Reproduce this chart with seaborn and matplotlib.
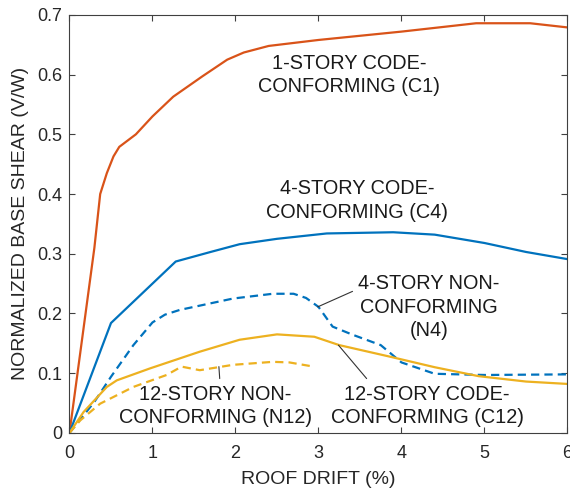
import pandas as pd
import matplotlib
matplotlib.use('Agg')
import matplotlib.pyplot as plt
import seaborn as sns

# pushover curves
c1_drift = [0, 0.3, 0.37, 0.45, 0.53, 0.6, 0.8, 1.0, 1.25, 1.6, 1.9, 2.1, 2.4, 3.0, 4.0, 4.9, 5.55, 6.0]
c1_shear = [0, 0.31, 0.40, 0.435, 0.463, 0.479, 0.50, 0.53, 0.563, 0.597, 0.625, 0.637, 0.648, 0.658, 0.672, 0.686, 0.686, 0.679]

c4_drift = [0, 0.5, 1.28, 1.7, 2.05, 2.5, 3.1, 3.9, 4.4, 5.0, 5.5, 6.0]
c4_shear = [0, 0.184, 0.287, 0.303, 0.316, 0.325, 0.334, 0.336, 0.332, 0.318, 0.303, 0.291]

n4_drift = [0, 0.3, 0.5, 0.77, 1.0, 1.15, 1.33, 1.97, 2.45, 2.7, 2.85, 3.0, 3.17, 3.4, 3.75, 4.0, 4.4, 5.0, 6.0]
n4_shear = [0, 0.052, 0.094, 0.147, 0.185, 0.198, 0.206, 0.225, 0.233, 0.233, 0.226, 0.211, 0.178, 0.165, 0.147, 0.118, 0.099, 0.097, 0.098]

c12_drift = [0, 0.17, 0.45, 0.57, 0.97, 1.57, 2.05, 2.5, 2.95, 3.25, 3.85, 4.4, 4.93, 5.5, 6.0]
c12_shear = [0, 0.035, 0.077, 0.088, 0.108, 0.136, 0.156, 0.165, 0.161, 0.147, 0.128, 0.11, 0.095, 0.086, 0.082]

n12_drift = [0, 0.13, 0.37, 0.77, 1.17, 1.35, 1.57, 1.97, 2.45, 2.65, 2.9]
n12_shear = [0, 0.021, 0.049, 0.077, 0.097, 0.111, 0.105, 0.114, 0.119, 0.118, 0.112]

sns.set_theme(style='ticks')
plt.rcParams['font.family'] = ['Liberation Sans', 'DejaVu Sans']

AX_GRAY = '#404040'
ORANGE = '#D95319'
BLUE = '#0072BD'
YELLOW = '#EDB120'
DASH = (0, (3.7, 2.3))

fig = plt.figure(figsize=(5.7, 4.88), dpi=100)
ax = fig.add_axes([0.1219, 0.1129, 0.8737, 0.8566])

curves = [
    (c1_drift, c1_shear, ORANGE, '-'),
    (c4_drift, c4_shear, BLUE, '-'),
    (n4_drift, n4_shear, BLUE, DASH),
    (c12_drift, c12_shear, YELLOW, '-'),
    (n12_drift, n12_shear, YELLOW, DASH),
]
for xs, ys, col, ls in curves:
    df = pd.DataFrame({'drift': xs, 'shear': ys})
    sns.lineplot(data=df, x='drift', y='shear', ax=ax, color=col,
                 linewidth=1.6, linestyle=ls, sort=False, estimator=None)

# labels
txt_kw = dict(fontsize=14.3, color='#1a1a1a', ha='center', va='center', linespacing=1.3)
ax.text(3.37, 0.599, '1-STORY CODE-\nCONFORMING (C1)', **txt_kw)
ax.text(3.47, 0.389, '4-STORY CODE-\nCONFORMING (C4)', **txt_kw)
ax.text(4.33, 0.21, '4-STORY NON-\nCONFORMING\n(N4)', **txt_kw)
ax.text(4.31, 0.045, '12-STORY CODE-\nCONFORMING (C12)', **txt_kw)
ax.text(1.76, 0.045, '12-STORY NON-\nCONFORMING (N12)', **txt_kw)

# leader lines
ax.plot([3.41, 2.99], [0.237, 0.211], color='#333333', linewidth=0.8)
ax.plot([3.58, 3.24], [0.091, 0.147], color='#333333', linewidth=0.8)
ax.plot([1.81, 1.80], [0.091, 0.111], color='#333333', linewidth=0.8)

ax.set_xlim(0, 6)
ax.set_ylim(0, 0.7)
ax.set_xticks(range(0, 7))
ax.set_xticklabels([str(i) for i in range(0, 7)])
yt = [0, 0.1, 0.2, 0.3, 0.4, 0.5, 0.6, 0.7]
ax.set_yticks(yt)
ax.set_yticklabels(['0'] + [f'{v:.1f}' for v in yt[1:]])
ax.tick_params(direction='in', top=True, right=True, length=4, width=0.8,
               colors=AX_GRAY, labelsize=13, labelcolor='#262626')
ax.tick_params(axis='x', pad=9)
ax.tick_params(axis='y', pad=5)
for s in ax.spines.values():
    s.set_visible(True)
    s.set_color(AX_GRAY)
    s.set_linewidth(0.8)

ax.set_xlabel('ROOF DRIFT (%)', fontsize=14, color='#262626', labelpad=6)
ax.set_ylabel('NORMALIZED BASE SHEAR (V/W)', fontsize=14, color='#262626', labelpad=6)

plt.savefig('out.png', dpi=100)
